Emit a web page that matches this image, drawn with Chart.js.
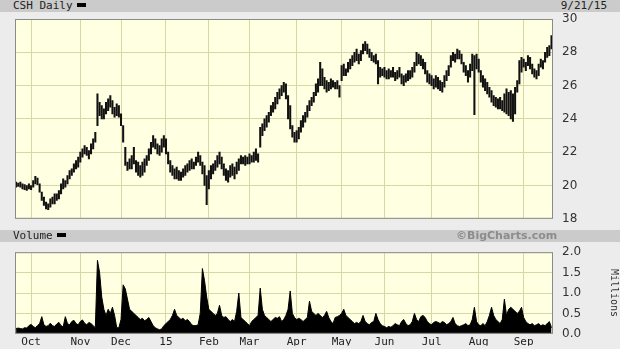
<!DOCTYPE html>
<html><head><meta charset="utf-8">
<script src="https://cdn.jsdelivr.net/npm/chart.js@4/dist/chart.umd.min.js"></script>
<style>
html,body{margin:0;padding:0;background:#ececec;}
#wrap{position:relative;width:620px;height:349px;overflow:hidden;background:#ececec;}
.hbar{position:absolute;left:0;width:620px;height:12px;background:#cbcbcb;font-family:"DejaVu Sans Mono",monospace;font-size:11px;line-height:12px;color:#222;z-index:2;}
.hbar .l{position:absolute;left:13px;top:0;}
.dash{display:inline-block;width:9px;height:4px;background:#000;vertical-align:middle;margin-left:4px;margin-top:-2px;}
.hbar .r{position:absolute;right:13px;top:0;}
.hbar .bc{position:absolute;left:456px;top:0;font-family:"DejaVu Sans",sans-serif;font-weight:bold;font-size:11px;color:#8c8c8c;}
canvas{position:absolute;left:0;z-index:1;}
</style></head>
<body><div id="wrap">
<canvas id="pc" width="620" height="235" style="top:0"></canvas>
<canvas id="vc" width="620" height="114" style="top:236px"></canvas>
<div class="hbar" style="top:0"><span class="l">CSH Daily<span class="dash"></span></span><span class="r">9/21/15</span></div>
<div class="hbar" style="top:230px"><span class="l">Volume<span class="dash"></span></span><span class="bc">©BigCharts.com</span></div>
</div>
<script>
// Trading-day index positions of month starts, and their labels
const monthIdx = [7, 30, 49, 70, 90, 109, 131, 152, 172, 194, 216, 237];
const monthLabels = ["Oct","Nov","Dec","15","Feb","Mar","Apr","May","Jun","Jul","Aug","Sep"];
const priceTicks = [18, 20, 22, 24, 26, 28, 30];
const volTicks = [0, 0.5, 1.0, 1.5, 2.0];

// Daily highs (Sep 22 2014 - Sep 21 2015)
const highs = [
20.2,20.15,20.2,20.1,20.05,20.0,20.1,20.0,20.3,20.55,
20.45,20.1,19.6,19.3,19.0,18.9,19.2,19.3,19.5,19.5,
19.7,20.1,20.4,20.3,20.6,20.9,21.0,21.3,21.5,21.7,
22.0,22.2,22.4,22.3,22.1,22.5,22.8,23.2,25.5,25.0,
24.8,24.6,25.0,25.2,25.4,25.1,24.7,24.9,24.8,24.3,
23.6,22.3,21.4,21.6,21.8,22.3,21.5,21.4,21.2,21.4,
21.6,21.8,22.2,22.6,23.0,22.8,22.5,22.4,22.8,23.0,
22.8,22.0,21.5,21.2,21.0,21.1,20.9,20.8,21.0,21.2,
21.3,21.5,21.6,21.4,21.7,22.0,21.8,21.4,21.2,20.6,
20.9,21.2,21.3,21.5,21.8,22.0,21.7,21.3,21.0,20.9,
21.2,21.3,21.1,21.4,21.6,21.8,21.7,21.8,21.7,21.9,
21.8,22.0,22.2,21.9,23.5,23.7,24.0,24.2,24.4,24.8,
25.0,25.3,25.6,25.8,26.0,26.2,26.1,25.4,24.8,23.6,
23.2,23.3,23.5,23.9,24.2,24.4,24.8,25.1,25.3,25.6,
26.1,26.4,27.4,27.0,26.5,26.3,26.2,26.4,26.3,26.2,
26.3,26.0,27.2,27.3,27.0,27.4,27.6,27.8,28.0,28.2,
27.9,28.1,28.5,28.65,28.5,28.2,28.0,27.8,27.9,27.5,
27.1,27.0,27.1,26.9,27.0,26.9,27.1,26.8,26.9,27.1,
26.7,26.6,26.7,26.9,26.9,27.1,27.4,28.0,27.9,27.8,
27.6,27.4,26.9,26.7,26.6,26.4,26.6,26.5,26.3,26.2,
26.6,26.9,27.2,27.8,28.0,27.9,28.2,28.1,27.9,27.4,
27.2,26.9,27.3,27.9,27.8,27.9,27.6,26.9,26.6,26.4,
26.2,25.9,25.7,25.4,25.3,25.2,25.3,25.1,25.5,25.8,
25.6,25.7,25.5,25.9,26.3,27.5,27.7,27.6,27.4,27.8,
27.7,27.3,27.0,26.9,27.3,27.6,27.5,28.0,28.3,28.4,
29.0];

// Daily lows
const lows = [
19.9,19.95,19.9,19.8,19.75,19.7,19.8,19.75,19.9,20.1,
20.05,19.6,19.1,18.8,18.6,18.55,18.7,18.9,18.9,19.1,
19.2,19.5,19.8,19.9,20.1,20.4,20.6,20.8,21.0,21.1,
21.4,21.7,21.9,21.8,21.6,21.9,22.2,22.6,23.6,24.2,
24.0,24.0,24.3,24.5,24.7,24.3,24.1,24.2,24.1,23.6,
22.6,21.2,20.9,21.0,21.0,21.3,20.8,20.6,20.5,20.6,
20.8,21.2,21.5,21.9,22.3,22.2,21.9,21.8,22.0,22.3,
21.9,21.3,20.8,20.6,20.4,20.4,20.3,20.3,20.5,20.6,
20.8,20.9,21.0,21.0,21.2,21.4,21.2,20.7,20.0,18.85,
19.8,20.4,20.7,20.9,21.1,21.3,21.0,20.6,20.3,20.2,
20.5,20.6,20.4,20.7,20.9,21.3,21.3,21.2,21.3,21.3,
21.4,21.4,21.5,21.4,22.3,23.0,23.3,23.5,23.8,24.2,
24.4,24.6,24.9,25.2,25.4,25.6,25.2,24.0,23.4,22.9,
22.6,22.6,22.8,23.2,23.5,23.8,24.1,24.5,24.8,25.0,
25.4,25.6,26.0,26.0,25.8,25.6,25.7,25.8,25.9,25.8,
25.8,25.3,26.3,26.6,26.6,26.8,27.0,27.2,27.4,27.5,
27.3,27.5,27.9,28.1,27.9,27.7,27.5,27.4,27.3,26.1,
26.5,26.6,26.5,26.4,26.4,26.5,26.5,26.3,26.4,26.5,
26.1,26.0,26.2,26.3,26.4,26.5,26.8,27.2,27.3,27.2,
27.0,26.7,26.2,26.1,26.0,25.8,25.9,25.8,25.7,25.6,
25.9,26.3,26.6,27.1,27.5,27.4,27.6,27.6,27.3,26.8,
26.6,26.2,26.5,26.9,24.25,27.0,26.8,26.2,25.9,25.7,
25.5,25.3,25.0,24.8,24.7,24.6,24.6,24.5,24.4,24.3,
24.2,24.0,23.85,24.3,25.6,26.1,26.8,27.1,26.9,27.2,
27.0,26.7,26.5,26.4,26.6,27.1,27.0,27.4,27.7,27.8,
28.2];

// Daily volume, millions
const volume = [
0.13,0.14,0.13,0.12,0.15,0.14,0.20,0.23,0.18,0.15,
0.20,0.25,0.42,0.22,0.18,0.20,0.26,0.20,0.18,0.24,
0.28,0.20,0.17,0.42,0.25,0.22,0.30,0.33,0.25,0.22,
0.30,0.34,0.26,0.22,0.28,0.25,0.20,0.15,1.80,1.50,
0.90,0.60,0.45,0.60,0.50,0.65,0.45,0.15,0.15,0.35,
1.20,1.10,0.85,0.60,0.55,0.50,0.45,0.40,0.35,0.38,
0.32,0.35,0.40,0.30,0.20,0.15,0.12,0.10,0.12,0.20,
0.25,0.30,0.35,0.45,0.60,0.45,0.40,0.35,0.38,0.32,
0.35,0.30,0.22,0.20,0.20,0.22,0.50,1.60,1.30,0.90,
0.60,0.55,0.50,0.45,0.50,0.70,0.45,0.40,0.42,0.35,
0.30,0.35,0.30,0.55,1.00,0.40,0.35,0.30,0.25,0.20,
0.30,0.35,0.40,0.45,1.12,0.60,0.45,0.40,0.35,0.30,
0.35,0.40,0.38,0.42,0.30,0.35,0.45,0.60,1.05,0.50,
0.40,0.35,0.38,0.35,0.30,0.35,0.40,0.80,0.55,0.50,
0.45,0.50,0.45,0.40,0.45,0.55,0.40,0.30,0.25,0.40,
0.42,0.45,0.50,0.60,0.45,0.40,0.35,0.30,0.25,0.28,
0.25,0.30,0.45,0.30,0.25,0.22,0.28,0.30,0.50,0.35,
0.25,0.20,0.18,0.15,0.18,0.16,0.20,0.25,0.22,0.20,
0.30,0.35,0.25,0.20,0.22,0.30,0.50,0.35,0.30,0.42,
0.45,0.40,0.30,0.25,0.22,0.28,0.30,0.28,0.25,0.30,
0.28,0.22,0.25,0.30,0.40,0.25,0.20,0.18,0.20,0.22,
0.25,0.20,0.22,0.35,0.65,0.30,0.22,0.20,0.25,0.20,
0.30,0.45,0.65,0.45,0.35,0.30,0.25,0.35,0.85,0.45,
0.60,0.65,0.60,0.55,0.50,0.55,0.65,0.40,0.30,0.25,
0.22,0.25,0.20,0.22,0.25,0.20,0.22,0.20,0.25,0.30,
0.15];

const XMIN = -0.5, XMAX = highs.length - 0.3;
const GRID = '#d8d6a4';
const plotBg = {
  id: 'plotBg',
  beforeDraw(c) {
    const a = c.chartArea, g = c.ctx;
    g.save(); g.fillStyle = '#ffffe2'; g.fillRect(a.left, a.top, a.width, a.height); g.restore();
  },
  afterDraw(c) {
    const a = c.chartArea, g = c.ctx;
    g.save(); g.strokeStyle = '#8a8a8a'; g.lineWidth = 1;
    g.strokeRect(a.left + 0.5, a.top + 0.5, a.width - 1, a.height - 1); g.restore();
  }
};
function monthTicks(s) { s.ticks = monthIdx.map(v => ({ value: v })); }
function monthLabel(v) { const k = monthIdx.indexOf(v); return k >= 0 ? monthLabels[k] : ''; }

const priceData = highs.map((h, i) => ({ x: i, y: [lows[i], h] }));
new Chart(document.getElementById('pc'), {
  type: 'bar',
  data: { datasets: [{ data: priceData, backgroundColor: '#111', borderWidth: 0, barThickness: 1.4 }] },
  options: {
    responsive: false, animation: false, devicePixelRatio: 1,
    layout: { padding: { left: 15, top: 19, right: 0, bottom: 0 } },
    plugins: { legend: { display: false }, tooltip: { enabled: false } },
    scales: {
      x: { type: 'linear', min: XMIN, max: XMAX, offset: false, afterBuildTicks: monthTicks,
           afterFit(s) { s.height = 0; },
           ticks: { display: false }, grid: { color: GRID, drawTicks: false, offset: false }, border: { display: false } },
      y: { position: 'right', min: 18, max: 30,
           afterBuildTicks(s) { s.ticks = priceTicks.map(v => ({ value: v })); },
           afterFit(s) { s.width = 67; },
           ticks: { padding: 9, color: '#333', font: { family: 'DejaVu Sans', size: 12 } },
           grid: { color: GRID, drawTicks: false }, border: { display: false } }
    }
  },
  plugins: [plotBg]
});

const volData = volume.map((v, i) => ({ x: i, y: v }));
new Chart(document.getElementById('vc'), {
  type: 'line',
  data: { datasets: [{ data: volData, borderColor: '#000', backgroundColor: '#000', borderWidth: 1,
                       pointRadius: 0, fill: 'origin', tension: 0 }] },
  options: {
    responsive: false, animation: false, devicePixelRatio: 1,
    layout: { padding: { left: 15, top: 0, right: 0, bottom: 0 } },
    plugins: { legend: { display: false }, tooltip: { enabled: false } },
    scales: {
      x: { type: 'linear', min: XMIN, max: XMAX, afterBuildTicks: monthTicks,
           afterFit(s) { s.height = 12; },
           ticks: { callback: monthLabel, maxRotation: 0, autoSkip: false, padding: 2, color: '#222',
                    font: { family: 'DejaVu Sans Mono', size: 11 } },
           grid: { color: GRID, drawTicks: false }, border: { display: false } },
      y: { position: 'right', min: 0, max: 2,
           afterBuildTicks(s) { s.ticks = volTicks.map(v => ({ value: v })); },
           afterFit(s) { s.width = 67; },
           ticks: { padding: 9, color: '#333', font: { family: 'DejaVu Sans', size: 12 },
                    callback: v => v.toFixed(1) },
           title: { display: true, text: 'Millions', color: '#333', padding: 0,
                    font: { family: 'DejaVu Sans Mono', size: 10 } },
           grid: { color: GRID, drawTicks: false }, border: { display: false } }
    }
  },
  plugins: [plotBg]
});
</script>
</body></html>
